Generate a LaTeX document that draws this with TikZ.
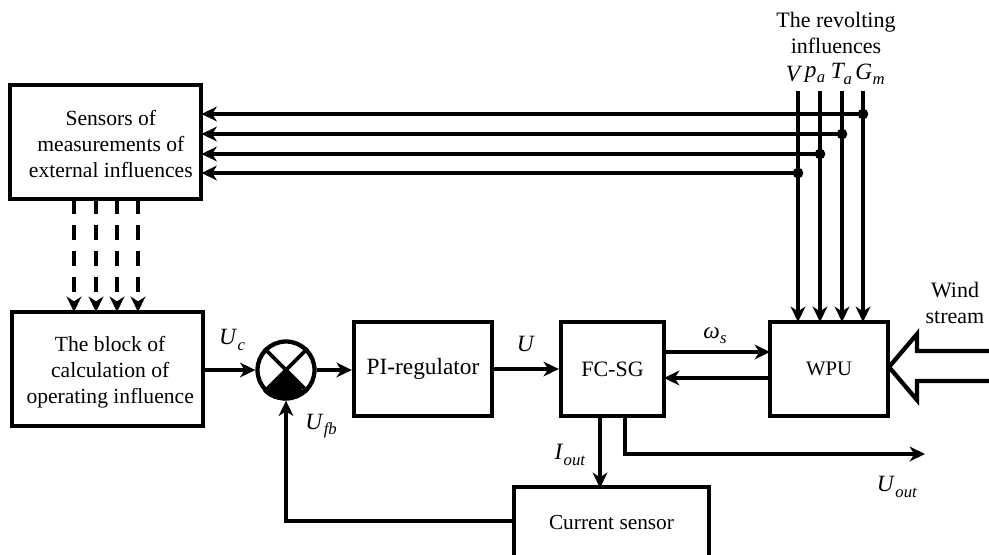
\documentclass[tikz,border=0pt]{standalone}
\usepackage{fontspec}
\setmainfont{Liberation Serif}
\usetikzlibrary{arrows.meta,calc}
\newcommand{\subt}[1]{\kern0.3pt\raisebox{-0.22em}{\fontsize{12.5}{12.5}\selectfont\textit{#1}}}
\newcommand{\offtext}[3]{\hspace*{#1}\vbox{\kern#2\hbox{\begin{tabular}{@{}c@{}}#3\end{tabular}}}}
\tikzset{
  blockbox/.style={draw=black,line width=3.2pt,inner sep=0pt,align=center,font=\fontsize{16.2}{19.5}\selectfont},
  wire/.style={line width=3.2pt,black},
  arrowwire/.style={wire,-{Stealth[length=11.5pt,width=11pt,inset=3.5pt]}},
  dashwire/.style={arrowwire,dash pattern=on 11.5pt off 8pt},
  lab/.style={inner sep=0pt,align=center,font=\fontsize{16.5}{19.5}\selectfont},
  mlab/.style={inner sep=0pt,align=center,font=\fontsize{17.5}{19.5}\selectfont},
  dotnode/.style={circle,fill=black,inner sep=0pt,minimum size=8pt},
}
\begin{document}
\begin{tikzpicture}[x=0.75pt,y=-0.75pt]
\useasboundingbox (0,0) rectangle (989,554);
\newcommand{\boxat}[6]{\node[blockbox,minimum width=#4*0.75pt,minimum height=#5*0.75pt] (#1) at (#2,#3) {#6};}
\boxat{sens}{105.5}{142}{191}{114}{\offtext{8pt}{6pt}{Sensors of\\measurements of\\external influences}}
\boxat{calc}{107.5}{369}{191}{114}{\offtext{4pt}{4.5pt}{The block of\\calculation of\\operating influence}}
\boxat{pi}{423}{369}{138}{94}{\fontsize{17.5}{21}\selectfont PI-regulator}
\boxat{fc}{612.5}{369}{103}{94}{\fontsize{16.5}{21}\selectfont FC-SG}
\boxat{wpu}{829}{369}{118}{94}{\fontsize{15.5}{21}\selectfont WPU}
\boxat{cur}{611.5}{523}{195}{72}{\fontsize{16}{21}\selectfont Current sensor}
% summing junction
\node[circle,draw=black,line width=3.2pt,minimum size=57*0.75pt,inner sep=0pt] (sum) at (286,370) {};
\fill[black,draw=black,line width=1pt,line join=miter] (sum.center) -- (sum.south west) arc[start angle=225,end angle=315,radius=27.5*0.75pt] -- cycle;
\draw[wire,line width=2.8pt] (sum.north west) -- (sum.south east) (sum.north east) -- (sum.south west);
% inputs on top
\foreach \n/\x/\y in {v/798/173,p/820/154,t/842/134,g/863/114}{
  \coordinate (\n top) at (\x,91);
  \coordinate (\n bot) at (\x,322);
  \node[dotnode] (\n dot) at (\x,\y) {};
  \coordinate (\n end) at (201.5,\y);
  \draw[arrowwire] (\n top) -- (\n bot);
  \draw[arrowwire] (\n dot.center) -- (\n end);
}
% dashed
\foreach \i/\x in {1/74,2/96,3/117,4/138}{
  \coordinate (da\i) at (\x,199);
  \coordinate (db\i) at (\x,312);
  \draw[dashwire] (da\i) -- (db\i);
}
\draw[arrowwire] (calc.east |- sum.center) -- (sum.west);
\draw[arrowwire] (sum.east) -- (pi.west |- sum.center);
\draw[arrowwire] (pi.east) -- (fc.west);
\coordinate (fwa) at (664,352); \coordinate (wfa) at (770,352);
\coordinate (fwb) at (664,378); \coordinate (wfb) at (770,378);
\draw[arrowwire] (fwa) -- (wfa);
\draw[arrowwire] (wfb) -- (fwb);
\coordinate (fcd) at (600,416); \coordinate (curt) at (600,488);
\draw[arrowwire] (fcd) -- (curt);
\coordinate (fco) at (625,416); \coordinate (uout) at (925,454);
\draw[arrowwire] (fco) |- (uout);
\coordinate (curfb) at ($(cur.west)+(0,-2)$);
\draw[arrowwire] (curfb) -| (sum.south);
% wind arrow
\draw[black,line width=3.2pt,miter limit=6,fill=white] (989,351) -- (917,351) -- (917,334) -- (889,367) -- (917,400) -- (917,381) -- (989,381);
% labels
\node[lab] (rev) at (836,33) {The revolting\\influences};
\node[mlab] (lv) at (794,74) {\textit{V}};
\node[mlab] (lp) at (815,75) {\textit{p}\subt{a}};
\node[mlab] (lt) at (841.5,74) {\textit{T}\kern-1.5pt\subt{a}};
\node[mlab] (lg) at (870,74) {\textit{G}\subt{m}};
\node[lab] (wind) at (955,303) {Wind\\stream};
\node[mlab] (uc) at (232,340) {\textit{U}\subt{c}};
\node[mlab] (ufb) at (321,426) {\textit{U}\subt{fb}};
\node[mlab] (u) at (526,344) {\textit{U}};
\node[mlab] (ws) at (715,336) {\textit{ω}\subt{s}};
\node[mlab] (iout) at (570,455) {\textit{I}\subt{out}};
\node[mlab] (uo) at (897,487) {\textit{U}\subt{out}};
\end{tikzpicture}
\end{document}
